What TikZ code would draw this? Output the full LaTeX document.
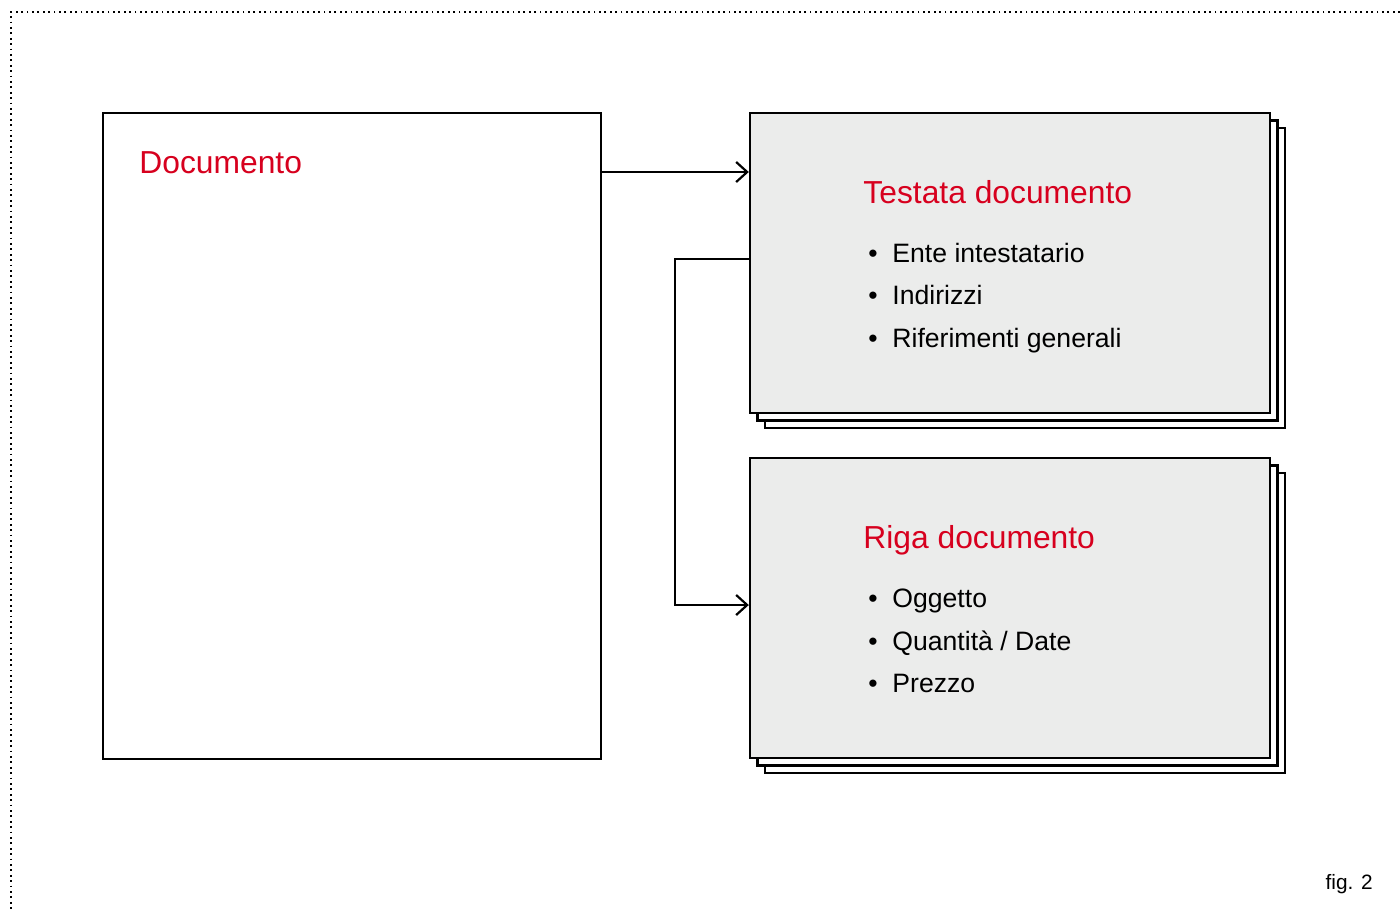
\documentclass[tikz,border=0pt]{standalone}
\usepackage{fontspec}
\setmainfont{Liberation Sans}
\usetikzlibrary{arrows.meta}
\definecolor{docred}{RGB}{215,0,30}
\definecolor{boxgray}{RGB}{235,236,235}
\tikzset{
  pagebox/.style={draw=black, line width=1.2pt, fill=white, inner sep=0pt},
  frontbox/.style={draw=black, line width=1.2pt, fill=boxgray, inner sep=0pt, minimum width=260pt, minimum height=150pt},
  backbox/.style={draw=black, line width=1.2pt, fill=white, inner sep=0pt, minimum width=260pt, minimum height=150pt},
  conn/.style={draw=black, line width=1.1pt, -{Straight Barb[length=5.5pt,width=10pt,line width=1.1pt]}},
  titletext/.style={text=docred, font=\fontsize{15.9}{18}\selectfont, anchor=base west, inner sep=0pt},
  itemtext/.style={text=black, font=\fontsize{13.3}{16}\selectfont, anchor=base west, inner sep=0pt},
  bullettext/.style={text=black, font=\fontsize{13.3}{16}\selectfont, anchor=base, inner sep=0pt},
  figtext/.style={text=black, font=\fontsize{10.4}{12}\selectfont, anchor=base east, inner sep=0pt},
  frame/.style={draw=black, line width=0.9pt, dash pattern=on 0.9pt off 1.8pt}
}
\begin{document}
\begin{tikzpicture}[x=0.5pt, y=-0.5pt]
\useasboundingbox (0,0) rectangle (1400,911);
% dotted frame
\coordinate (fc) at (11,12);
\coordinate (fr) at (1400,12);
\coordinate (fb) at (11,911);
\draw[frame] (fr) -- (fc) -- (fb);
% left document box
\node[pagebox, minimum width=249pt, minimum height=323pt] (doc) at (352,436) {};
\node[titletext] (doctitle) at (139,173) {Documento};
% top stack
\node[backbox] (tb2) at (1025,278) {};
\node[backbox] (tb1) at (1017.5,270.5) {};
\node[frontbox] (testata) at (1010,263) {};
% bottom stack
\node[backbox] (rb2) at (1025,623) {};
\node[backbox] (rb1) at (1017.5,615.5) {};
\node[frontbox] (riga) at (1010,608) {};
% texts top
\node[titletext] (ttitle) at (863,203) {Testata documento};
\node[bullettext] (tb1b) at (873,262) {•};
\node[itemtext] (ti1) at (892,262) {Ente intestatario};
\node[bullettext] (tb2b) at (873,304) {•};
\node[itemtext] (ti2) at (892,304) {Indirizzi};
\node[bullettext] (tb3b) at (873,347) {•};
\node[itemtext] (ti3) at (892,347) {Riferimenti generali};
% texts bottom
\node[titletext] (rtitle) at (863,548) {Riga documento};
\node[bullettext] (rb1b) at (873,607) {•};
\node[itemtext] (ri1) at (892,607) {Oggetto};
\node[bullettext] (rb2b) at (873,650) {•};
\node[itemtext] (ri2) at (892,650) {Quantità / Date};
\node[bullettext] (rb3b) at (873,692) {•};
\node[itemtext] (ri3) at (892,692) {Prezzo};
% connectors
\coordinate (a1) at (0,172);
\coordinate (a2) at (0,259);
\coordinate (a3) at (675,605);
\draw[conn] (doc.east |- a1) -- (testata.west |- a1);
\draw[conn] (testata.west |- a2) -| (a3) -- (riga.west |- a3);
% fig label
\node[figtext] (fig) at (1373,889) {fig. 2};
\end{tikzpicture}
\end{document}
